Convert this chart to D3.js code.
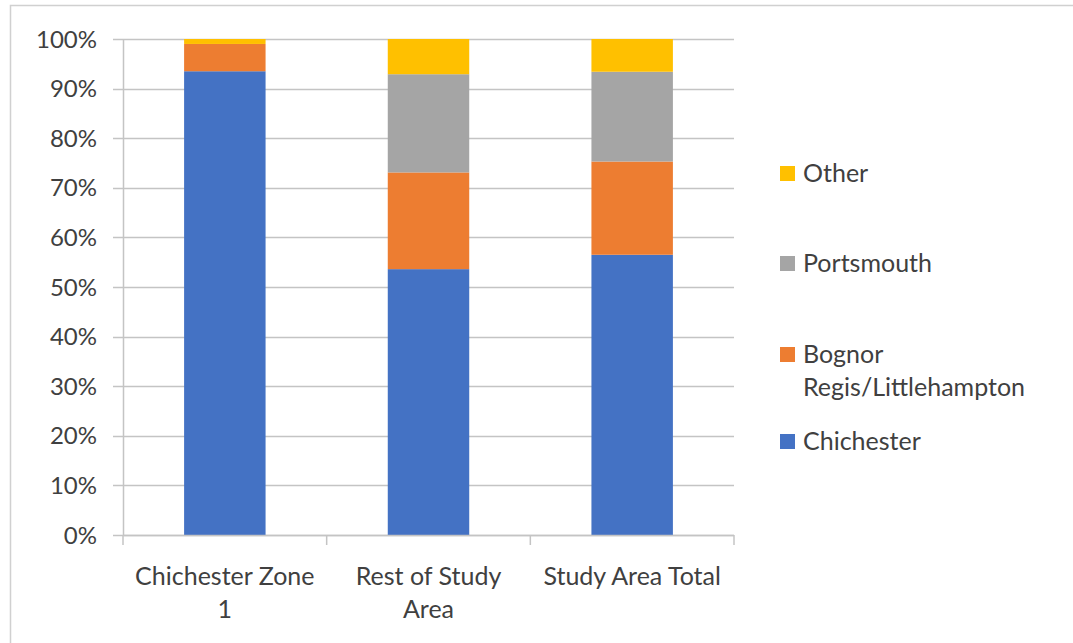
<!DOCTYPE html>
<html>
<head>
<meta charset="utf-8">
<script src="https://cdn.jsdelivr.net/npm/d3@7/dist/d3.min.js"></script>
<style>
  html, body { margin: 0; padding: 0; background: #fff; }
  svg { display: block; }
  text { font-family: Lato, "Open Sans", sans-serif; fill: #404040; }
</style>
</head>
<body>
<svg id="chart" width="1073" height="643"></svg>
<script>
// Share of trips by destination, stacked to 100%
const categories = ["Chichester Zone 1", "Rest of Study Area", "Study Area Total"];
const categoryLines = [["Chichester Zone", "1"], ["Rest of Study", "Area"], ["Study Area Total"]];
const seriesNames = ["Chichester", "Bognor Regis/Littlehampton", "Portsmouth", "Other"];
const chichester = [93.5, 53.6, 56.5];
const bognor     = [5.5, 19.5, 18.8];
const portsmouth = [0.0, 19.8, 18.1];
const other      = [1.0, 7.1, 6.6];
const yTicks = [0, 10, 20, 30, 40, 50, 60, 70, 80, 90, 100];
const colors = ["#4472C4", "#ED7D31", "#A5A5A5", "#FFC000"];

const rows = categories.map((c, i) => ({
  category: c,
  "Chichester": chichester[i],
  "Bognor Regis/Littlehampton": bognor[i],
  "Portsmouth": portsmouth[i],
  "Other": other[i]
}));

const svg = d3.select("#chart");

// outer frame
svg.append("rect")
  .attr("x", 10.5).attr("y", 5.5)
  .attr("width", 1080).attr("height", 660)
  .attr("fill", "none").attr("stroke", "#d0d0d0").attr("stroke-width", 1.5);

const plotLeft = 123, plotRight = 734, plotTop = 39, plotBottom = 535;

const x = d3.scaleBand().domain(categories).range([plotLeft, plotRight])
  .paddingInner(0.6).paddingOuter(0.3);
const y = d3.scaleLinear().domain([0, 100]).range([plotBottom, plotTop]);

// gridlines with short tick marks left of the axis
svg.append("g").selectAll("line").data(yTicks).join("line")
  .attr("x1", plotLeft - 10).attr("x2", plotRight)
  .attr("y1", d => Math.round(y(d)) + 0.5).attr("y2", d => Math.round(y(d)) + 0.5)
  .attr("stroke", "#c4c4c4").attr("stroke-width", 1.5);

// y tick labels
svg.append("g").selectAll("text").data(yTicks).join("text")
  .attr("x", 97).attr("y", d => y(d))
  .attr("dy", "0.36em")
  .attr("text-anchor", "end")
  .style("font-size", "24px")
  .text(d => d + "%");

// stacked bars
const stack = d3.stack().keys(seriesNames);
const layers = stack(rows);
svg.append("g").selectAll("g").data(layers).join("g")
  .attr("fill", (d, i) => colors[i])
  .selectAll("rect").data(d => d).join("rect")
  .attr("x", d => x(d.data.category))
  .attr("width", x.bandwidth())
  .attr("y", d => y(d[1]))
  .attr("height", d => y(d[0]) - y(d[1]));

// y axis line
svg.append("line")
  .attr("x1", plotLeft + 0.5).attr("x2", plotLeft + 0.5)
  .attr("y1", plotTop).attr("y2", plotBottom)
  .attr("stroke", "#c4c4c4").attr("stroke-width", 1.5);

// x axis line and category dividers
svg.append("line")
  .attr("x1", plotLeft).attr("x2", plotRight)
  .attr("y1", plotBottom + 0.5).attr("y2", plotBottom + 0.5)
  .attr("stroke", "#c4c4c4").attr("stroke-width", 1.5);
const step = x.step();
const dividers = d3.range(categories.length + 1).map(i => plotLeft + i * step);
svg.append("g").selectAll("line").data(dividers).join("line")
  .attr("x1", d => d).attr("x2", d => d)
  .attr("y1", plotBottom).attr("y2", plotBottom + 10)
  .attr("stroke", "#c4c4c4").attr("stroke-width", 1.5);

// category labels
const catG = svg.append("g");
categories.forEach((c, i) => {
  const cx = x(c) + x.bandwidth() / 2;
  const t = catG.append("text")
    .attr("x", cx)
    .attr("y", 585)
    .attr("text-anchor", "middle")
    .style("font-size", "25px");
  categoryLines[i].forEach((line, j) => {
    t.append("tspan").attr("x", cx)
      .attr("dy", j === 0 ? 0 : 33).text(line);
  });
});

// legend (drawn top to bottom in reverse stack order)
const legendItems = [
  { color: colors[3], y: 173, lines: ["Other"] },
  { color: colors[2], y: 263, lines: ["Portsmouth"] },
  { color: colors[1], y: 354, lines: ["Bognor", "Regis/Littlehampton"] },
  { color: colors[0], y: 441, lines: ["Chichester"] }
];
const lg = svg.append("g");
legendItems.forEach(item => {
  lg.append("rect")
    .attr("x", 780).attr("y", item.y - 7)
    .attr("width", 15).attr("height", 15)
    .attr("fill", item.color);
  const t = lg.append("text")
    .attr("x", 803).attr("y", item.y)
    .style("font-size", "25px");
  item.lines.forEach((line, j) => {
    t.append("tspan").attr("x", 803).attr("dy", j === 0 ? "0.36em" : 33).text(line);
  });
});
</script>
</body>
</html>
